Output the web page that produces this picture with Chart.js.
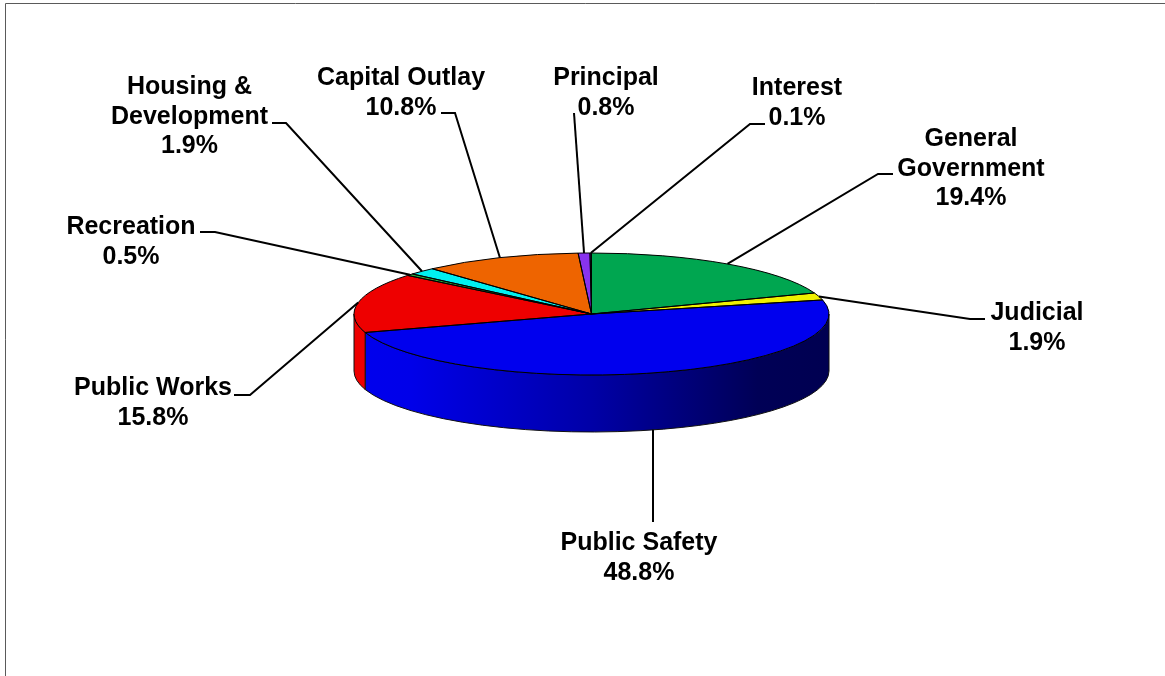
<!DOCTYPE html>
<html>
<head>
<meta charset="utf-8">
<title>Expenditures</title>
<script src="https://cdn.jsdelivr.net/npm/chart.js@4/dist/chart.umd.min.js"></script>
<style>
  html, body { margin: 0; padding: 0; background: #fff; overflow: hidden; }
  canvas { display: block; }
</style>
</head>
<body>
<canvas id="pie" width="1165" height="676"></canvas>
<script>
const categories = [
  "General Government", "Judicial", "Public Safety", "Public Works", "Recreation",
  "Housing & Development", "Capital Outlay", "Principal", "Interest",
];
const shares = [19.4, 1.9, 48.8, 15.8, 0.5, 1.9, 10.8, 0.8, 0.1];
const sliceColors = [
  [0, 166, 80], [240, 240, 0], [0, 0, 238], [238, 0, 0], [40, 170, 60],
  [0, 240, 240], [238, 100, 0], [136, 51, 238], [40, 40, 130],
];
const labelLines = [
  ["General", "Government"], ["Judicial"], ["Public Safety"], ["Public Works"], ["Recreation"],
  ["Housing &", "Development"], ["Capital Outlay"], ["Principal"], ["Interest"],
];

// label centre x, first baseline y, and the two points the leader leaves from
const callouts = [
  { x: 971, y: 146, from: [893, 174], elbow: [878, 174] },
  { x: 1037, y: 320, from: [985, 319], elbow: [970, 319] },
  { x: 639, y: 550, from: [653, 522], elbow: [653, 522], onWall: true },
  { x: 153, y: 395, from: [234, 395], elbow: [250, 395] },
  { x: 131, y: 234, from: [200, 232], elbow: [215, 232] },
  { x: 189.5, y: 94, from: [272, 123], elbow: [286, 123] },
  { x: 401, y: 85, from: [441, 113], elbow: [455, 113] },
  { x: 606, y: 85, from: [574, 113], elbow: [574, 113] },
  { x: 797, y: 95, from: [765, 124], elbow: [750, 124] },
];

// flattened disc: where the top face sits on screen and how thick the wall is
const discCenterY = 314;
const discSquash = 61 / 237.5;
const wallDepth = 57;
const lineGap = 29.5;

const rgb = (c, f = 1) => `rgb(${Math.round(c[0] * f)}, ${Math.round(c[1] * f)}, ${Math.round(c[2] * f)})`;

const disc3d = {
  id: "disc3d",
  beforeDraw(chart) {
    // page frame, only the top and left edges show
    const ctx = chart.ctx;
    ctx.save();
    ctx.strokeStyle = "#5a5a5a";
    ctx.lineWidth = 1;
    ctx.beginPath();
    ctx.moveTo(5.5, 676);
    ctx.lineTo(5.5, 3.5);
    ctx.lineTo(1165, 3.5);
    ctx.stroke();
    ctx.restore();
  },
  beforeDatasetsDraw(chart) {
    const ctx = chart.ctx;
    const arcs = chart.getDatasetMeta(0).data;
    ctx.save();
    arcs.forEach((arc, i) => {
      // only the part of a slice on the near half has a visible wall
      const a0 = Math.max(arc.startAngle, 0);
      const a1 = Math.min(arc.endAngle, Math.PI);
      if (a1 <= a0) return;
      const r = arc.outerRadius;
      const ry = r * discSquash;
      const shade = ctx.createLinearGradient(arc.x - r, 0, arc.x + r, 0);
      shade.addColorStop(0, rgb(sliceColors[i], 1));
      shade.addColorStop(0.12, rgb(sliceColors[i], 0.98));
      shade.addColorStop(0.5, rgb(sliceColors[i], 0.7));
      shade.addColorStop(0.85, rgb(sliceColors[i], 0.36));
      shade.addColorStop(1, rgb(sliceColors[i], 0.34));
      ctx.beginPath();
      ctx.ellipse(arc.x, discCenterY, r, ry, 0, a0, a1);
      ctx.ellipse(arc.x, discCenterY + wallDepth, r, ry, 0, a1, a0, true);
      ctx.closePath();
      ctx.fillStyle = shade;
      ctx.fill();
      ctx.strokeStyle = "#111";
      ctx.lineWidth = 1;
      ctx.stroke();
    });
    ctx.restore();

    // squash the library's round pie into the top face
    const cy = arcs[0].y;
    ctx.save();
    ctx.translate(0, discCenterY);
    ctx.scale(1, discSquash);
    ctx.translate(0, -cy);
  },
  afterDatasetsDraw(chart) {
    const ctx = chart.ctx;
    ctx.restore();
    const arcs = chart.getDatasetMeta(0).data;

    // slice outlines in screen space so they keep an even width
    ctx.save();
    ctx.strokeStyle = "#000";
    ctx.lineWidth = 1;
    arcs.forEach((arc) => {
      ctx.beginPath();
      ctx.moveTo(arc.x, discCenterY);
      ctx.ellipse(arc.x, discCenterY, arc.outerRadius, arc.outerRadius * discSquash, 0, arc.startAngle, arc.endAngle);
      ctx.closePath();
      ctx.stroke();
    });

    // leaders and labels
    ctx.lineWidth = 2;
    ctx.fillStyle = "#000";
    ctx.font = "bold 25px 'Liberation Sans', Arial, sans-serif";
    ctx.textAlign = "center";
    ctx.textBaseline = "alphabetic";
    arcs.forEach((arc, i) => {
      const c = callouts[i];
      const mid = (arc.startAngle + arc.endAngle) / 2;
      // the wall leader drops straight down, so it keeps the x it starts from
      const tipX = c.onWall ? c.from[0] : arc.x + arc.outerRadius * Math.cos(mid);
      const tipY = discCenterY + arc.outerRadius * discSquash * Math.sin(mid) + (c.onWall ? wallDepth : 0);
      ctx.beginPath();
      ctx.moveTo(c.from[0], c.from[1]);
      ctx.lineTo(c.elbow[0], c.elbow[1]);
      ctx.lineTo(tipX, tipY);
      ctx.stroke();
      const lines = [...labelLines[i], shares[i].toFixed(1) + "%"];
      lines.forEach((text, n) => ctx.fillText(text, c.x, c.y + n * lineGap));
    });
    ctx.restore();
  },
};

new Chart(document.getElementById("pie"), {
  type: "pie",
  plugins: [disc3d],
  data: {
    labels: categories,
    datasets: [{
      data: shares,
      backgroundColor: sliceColors.map((c) => rgb(c)),
      borderWidth: 0,
      clip: false,
    }],
  },
  options: {
    responsive: false,
    animation: false,
    rotation: 0,
    layout: { padding: { left: 354, right: 336, top: 100.5, bottom: 100.5 } },
    plugins: { legend: { display: false }, tooltip: { enabled: false } },
  },
});
</script>
</body>
</html>
